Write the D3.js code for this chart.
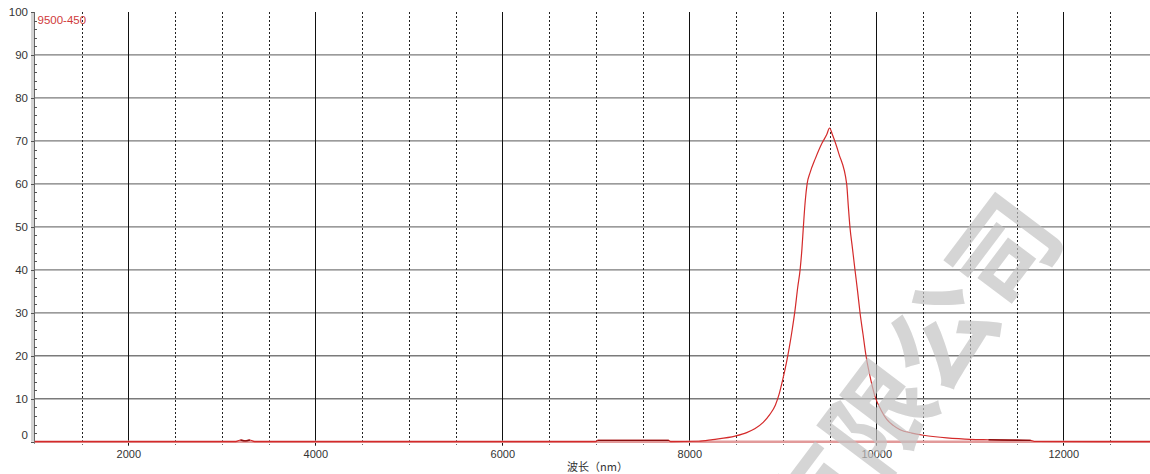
<!DOCTYPE html>
<html>
<head>
<meta charset="utf-8">
<script src="https://cdn.jsdelivr.net/npm/d3@7"></script>
<style>
  html, body { margin: 0; padding: 0; background: #ffffff; }
  svg { display: block; }
</style>
</head>
<body>
<script>
// ---- data ----
const wavelength = [1000, 3150, 3200, 3250, 3300, 3350, 7000, 7020, 7780, 7800, 8100, 8250, 8490, 8614, 8700, 8790, 8860, 8920, 8960, 9000, 9040, 9070, 9100, 9130, 9160, 9185, 9205, 9220, 9240, 9260, 9290, 9350, 9420, 9470, 9500, 9530, 9600, 9683, 9700, 9718, 9745, 9772, 9800, 9826, 9858, 9890, 9940, 9987, 10050, 10112, 10180, 10254, 10380, 10503, 10630, 10753, 10880, 11000, 11200, 11500, 11650, 11700, 13000];
const transmittance = [0, 0, 0.4, 0.2, 0.4, 0, 0, 0.3, 0.3, 0, 0.1, 0.5, 1.3, 2.1, 3.0, 4.5, 6.3, 8.5, 11, 14.5, 18.5, 22, 26, 30.5, 36, 40, 45, 50, 56, 60, 62.5, 66, 69.5, 71.5, 73, 71.5, 67, 60, 55, 50, 45, 40, 35, 30, 25, 20, 14.5, 10.5, 7.4, 5.2, 3.8, 2.8, 2.0, 1.5, 1.15, 0.9, 0.7, 0.55, 0.45, 0.35, 0.3, 0.05, 0];
const xTickLabels = [2000, 4000, 6000, 8000, 10000, 12000];
const xMinorTicks = [1500, 2500, 3000, 3500, 4500, 5000, 5500, 6500, 7000, 7500, 8500, 9000, 9500, 10500, 11000, 11500, 12500];
const yTickLabels = [0, 10, 20, 30, 40, 50, 60, 70, 80, 90, 100];
const seriesName = "9500-450";
const xTitle = "波长（nm）";
const watermark = "有限公司";

// ---- layout ----
const W = 1150, H = 474;
const svg = d3.select("body").append("svg").attr("width", W).attr("height", H);

const x = d3.scaleLinear().domain([1000, 13000]).range([34.8, 1156.8]);
const y = d3.scaleLinear().domain([0, 100]).range([441.7, 12]);
const plotTop = y(100), plotBottom = y(0);

// horizontal grid lines
svg.append("g").selectAll("line").data(yTickLabels.filter(d => d > 0 && d < 100)).join("line")
  .attr("x1", x(1000)).attr("x2", W)
  .attr("y1", d => y(d)).attr("y2", d => y(d))
  .attr("stroke", "#7a7a7a").attr("stroke-width", 1.3);

// dotted vertical grid lines
svg.append("g").selectAll("line").data(xMinorTicks).join("line")
  .attr("x1", d => Math.round(x(d)) + 0.5).attr("x2", d => Math.round(x(d)) + 0.5)
  .attr("y1", plotTop).attr("y2", plotBottom + 3)
  .attr("stroke", "#222").attr("stroke-width", 1).attr("stroke-dasharray", "2,2");

// solid vertical grid lines
svg.append("g").selectAll("line").data(xTickLabels).join("line")
  .attr("x1", d => Math.round(x(d)) + 0.5).attr("x2", d => Math.round(x(d)) + 0.5)
  .attr("y1", plotTop).attr("y2", plotBottom + 4)
  .attr("stroke", "#111").attr("stroke-width", 1);

// left axis
svg.append("rect").attr("x", 31).attr("y", plotTop).attr("width", 3).attr("height", plotBottom - plotTop)
  .attr("fill", "#d4d4d4");
svg.append("line").attr("x1", 34.5).attr("x2", 34.5).attr("y1", plotTop).attr("y2", plotBottom + 2)
  .attr("stroke", "#666").attr("stroke-width", 1);

// y minor ticks
const yMinor = d3.range(0, 101, 2);
svg.append("g").selectAll("line").data(yMinor).join("line")
  .attr("x1", 34).attr("x2", d => d % 10 === 0 ? 31 : 37)
  .attr("y1", d => Math.round(y(d)) + 0.5).attr("y2", d => Math.round(y(d)) + 0.5)
  .attr("stroke", "#555").attr("stroke-width", 1);

// y axis labels via d3 axis
const yAxis = d3.axisLeft(y).tickValues(yTickLabels).tickSize(0).tickPadding(0);
const gy = svg.append("g").attr("transform", "translate(28,0)").call(yAxis);
gy.select(".domain").remove();
gy.selectAll("text")
  .attr("font-family", "Liberation Sans, Arial, sans-serif")
  .attr("font-size", 11.5).attr("fill", "#333")
  .attr("dy", d => d === 0 ? "-0.3em" : "0.32em");

// x axis labels
const xAxis = d3.axisBottom(x).tickValues(xTickLabels).tickSize(0).tickPadding(0).tickFormat(d3.format("d"));
const gx = svg.append("g").attr("transform", `translate(0,${plotBottom + 8})`).call(xAxis);
gx.select(".domain").remove();
gx.selectAll("text")
  .attr("font-family", "Liberation Sans, Arial, sans-serif")
  .attr("font-size", 11).attr("fill", "#333");

// x axis title
svg.append("text").attr("x", 567).attr("y", 471)
  .attr("font-family", "Noto Sans CJK SC, sans-serif").attr("font-size", 11).attr("fill", "#333")
  .text(xTitle);

// baseline (pinkish)
svg.append("line").attr("x1", x(1000)).attr("x2", W)
  .attr("y1", plotBottom).attr("y2", plotBottom)
  .attr("stroke", "#e29a9a").attr("stroke-width", 2.6);

// data curve
const pts = wavelength.map((w, i) => [w, transmittance[i]]);
const line = d3.line().x(d => x(d[0])).y(d => y(d[1])).curve(d3.curveMonotoneX);
svg.append("path").datum(pts).attr("d", line)
  .attr("fill", "none").attr("stroke", "#d42a2a").attr("stroke-width", 1.2);

// darker near-zero segments
const darkSegs = [[3180, 3320], [7020, 7780], [11150, 11650]];
svg.append("g").selectAll("path").data(darkSegs).join("path")
  .attr("d", s => line(pts.filter(p => p[0] >= s[0] && p[0] <= s[1])))
  .attr("fill", "none").attr("stroke", "#8a1010").attr("stroke-width", 1.4);

// series label
svg.append("text").attr("x", 37.5).attr("y", 24)
  .attr("font-family", "Liberation Sans, Arial, sans-serif").attr("font-size", 11.5)
  .attr("fill", "#d03a3a").text(seriesName);

// watermark
svg.append("text")
  .attr("transform", "translate(905,372) rotate(-53)")
  .attr("text-anchor", "middle").attr("dominant-baseline", "central")
  .attr("font-family", "Noto Sans CJK SC, sans-serif").attr("font-size", 104)
  .attr("font-weight", "bold").attr("fill", "#c4c4c4").attr("opacity", 0.7)
  .text(watermark);
</script>
</body>
</html>
